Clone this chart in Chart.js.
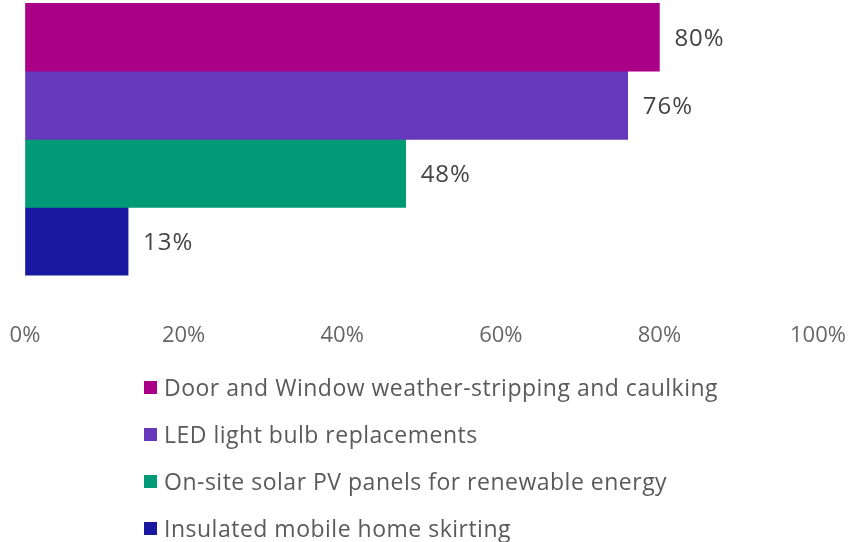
<!DOCTYPE html>
<html>
<head>
<meta charset="utf-8">
<script src="https://cdn.jsdelivr.net/npm/chart.js@4.4.0/dist/chart.umd.min.js"></script>
<style>
  html, body { margin: 0; padding: 0; background: #fff; }
  #wrap { position: relative; width: 850px; height: 542px; }
  #legend { position: absolute; left: 144px; top: 363px; font-family: 'Open Sans', sans-serif; font-size: 23px; letter-spacing: 0.5px; color: #5a5a5a; }
  #legend .item { display: flex; align-items: center; height: 47px; white-space: nowrap; }
  #legend .box { width: 13px; height: 13px; margin-right: 7px; margin-top: 2px; }
</style>
</head>
<body>
<div id="wrap">
  <canvas id="surveyChart" width="850" height="542"></canvas>
  <div id="legend"></div>
</div>
<script>
const measures = [
  'Door and Window weather-stripping and caulking',
  'LED light bulb replacements',
  'On-site solar PV panels for renewable energy',
  'Insulated mobile home skirting'
];
const shares = [80, 76, 48, 13];
const colors = ['#aa0088', '#6639bb', '#009b76', '#1818a0'];
const xTicks = [0, 20, 40, 60, 80, 100];

const ctx = document.getElementById('surveyChart').getContext('2d');

// draws the "80%" style labels to the right of each bar
const barLabels = {
  id: 'barLabels',
  afterDatasetsDraw(chart) {
    const c = chart.ctx;
    c.save();
    c.font = '24px "Open Sans", sans-serif';
    c.letterSpacing = '1px';
    c.fillStyle = '#444';
    c.textBaseline = 'middle';
    chart.data.datasets.forEach((ds, i) => {
      const bar = chart.getDatasetMeta(i).data[0];
      c.fillText(ds.data[0] + '%', bar.x + 15, bar.y + 2);
    });
    c.restore();
  }
};

new Chart(ctx, {
  type: 'bar',
  data: {
    labels: [''],
    datasets: measures.map((m, i) => ({
      label: m,
      data: [shares[i]],
      backgroundColor: colors[i],
      borderWidth: 0
    }))
  },
  options: {
    indexAxis: 'y',
    responsive: false,
    animation: false,
    layout: { padding: { top: 3, bottom: 193, left: 25, right: 32 } },
    datasets: { bar: { categoryPercentage: 1, barPercentage: 1 } },
    scales: {
      x: {
        min: 0,
        max: 100,
        afterBuildTicks: axis => { axis.ticks = xTicks.map(v => ({ value: v })); },
        grid: { drawOnChartArea: false, drawTicks: true, tickLength: 47, color: 'rgba(0,0,0,0)' },
        border: { display: false },
        ticks: {
          padding: 0,
          color: '#666',
          font: { family: "'Open Sans', sans-serif", size: 22 },
          callback: v => v + '%'
        }
      },
      y: { display: false }
    },
    plugins: {
      legend: { display: false },
      tooltip: { enabled: false }
    }
  },
  plugins: [barLabels]
});

const legendEl = document.getElementById('legend');
measures.forEach((m, i) => {
  const row = document.createElement('div');
  row.className = 'item';
  row.innerHTML = '<span class="box" style="background:' + colors[i] + '"></span><span></span>';
  row.lastChild.textContent = m;
  legendEl.appendChild(row);
});
</script>
</body>
</html>
